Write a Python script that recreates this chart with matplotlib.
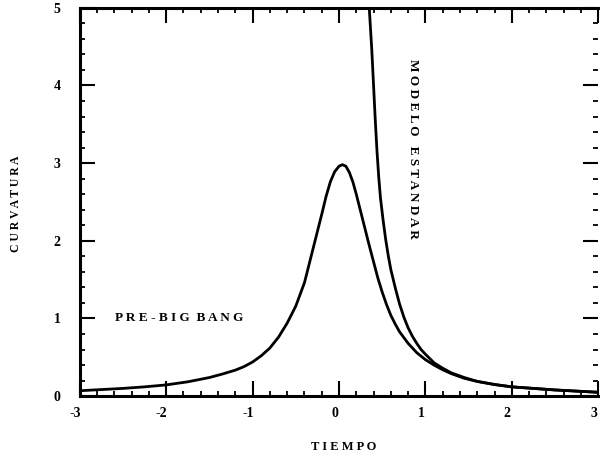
import numpy as np
import matplotlib.pyplot as plt
from matplotlib.ticker import MultipleLocator, FixedFormatter, FixedLocator
from matplotlib.transforms import ScaledTranslation

# curva pre-big bang
tiempo_pbb = [-3.0, -2.75, -2.5, -2.25, -2.0, -1.75, -1.5, -1.35, -1.2, -1.1,
              -1.0, -0.9, -0.8, -0.7, -0.6, -0.5, -0.4, -0.3, -0.2, -0.15,
              -0.1, -0.05, 0.0, 0.04, 0.08, 0.12, 0.16, 0.2, 0.25, 0.3, 0.35,
              0.4, 0.45, 0.5, 0.55, 0.6, 0.65, 0.7, 0.8, 0.9, 1.0, 1.1, 1.2,
              1.3, 1.45, 1.6, 1.8, 2.0, 2.25, 2.5, 2.75, 3.0]
curv_pbb = [0.07, 0.085, 0.10, 0.12, 0.145, 0.185, 0.24, 0.285, 0.335, 0.38,
            0.44, 0.52, 0.62, 0.76, 0.94, 1.16, 1.46, 1.90, 2.34, 2.57,
            2.76, 2.89, 2.96, 2.98, 2.96, 2.88, 2.76, 2.60, 2.38, 2.16, 1.94,
            1.73, 1.52, 1.34, 1.18, 1.04, 0.93, 0.83, 0.68, 0.56, 0.47, 0.40, 0.34,
            0.29, 0.23, 0.19, 0.15, 0.12, 0.10, 0.08, 0.065, 0.05]

# modelo estandar
tiempo_std = [0.35, 0.38, 0.40, 0.42, 0.44, 0.46, 0.48, 0.51, 0.54, 0.57,
              0.60, 0.65, 0.70, 0.75, 0.80, 0.85, 0.9, 0.95, 1.0, 1.1, 1.2,
              1.3, 1.45, 1.6, 1.8, 2.0, 2.25, 2.5, 2.75, 3.0]
curv_std = [5.0, 4.45, 4.0, 3.55, 3.15, 2.82, 2.55, 2.27, 2.02, 1.81,
            1.63, 1.40, 1.19, 1.02, 0.88, 0.77, 0.68, 0.60, 0.54, 0.43, 0.36,
            0.30, 0.24, 0.19, 0.15, 0.12, 0.10, 0.08, 0.065, 0.05]

xticks = [-3, -2, -1, 0, 1, 2, 3]
xlabels = ['-3', '-2', '-1', '0', '1', '2', '3']
yticks = [0, 1, 2, 3, 4, 5]

font = 'Liberation Serif'

fig = plt.figure(figsize=(6, 4.58), dpi=100)
ax = fig.add_axes([0.133, 0.135, 0.864, 0.848])

ax.plot(tiempo_pbb, curv_pbb, color='black', lw=2.0,
        solid_capstyle='round', solid_joinstyle='round')
ax.plot(tiempo_std, curv_std, color='black', lw=2.0,
        solid_capstyle='round', solid_joinstyle='round')

ax.set_xlim(-3, 3)
ax.set_ylim(0, 5)

for s in ['left', 'bottom', 'top']:
    ax.spines[s].set_linewidth(2.2)
ax.spines['right'].set_visible(False)

ax.xaxis.set_major_locator(FixedLocator(xticks))
ax.xaxis.set_major_formatter(FixedFormatter(xlabels))
ax.yaxis.set_major_locator(FixedLocator(yticks))
ax.xaxis.set_minor_locator(MultipleLocator(0.2))
ax.yaxis.set_minor_locator(MultipleLocator(0.2))

ax.tick_params(which='major', direction='in', length=11, width=1.5,
               top=True, right=True, labelsize=10)
ax.tick_params(which='minor', direction='in', length=3.5, width=1.3,
               top=True, right=True)
ax.tick_params(axis='y', which='major', pad=14)
ax.tick_params(axis='x', which='major', pad=8)
shift = ScaledTranslation(-0.045, 0, fig.dpi_scale_trans)
for lab in ax.get_xticklabels():
    lab.set_transform(lab.get_transform() + shift)
for lab in ax.get_xticklabels() + ax.get_yticklabels():
    lab.set_fontfamily(font)
    lab.set_fontweight('bold')

fig.text(0.027, 0.555, 'C U R V A T U R A', rotation=90, ha='center', va='center',
         fontsize=8.5, fontweight='bold', family=font)
fig.text(0.572, 0.024, 'T I E M P O', ha='center', va='center',
         fontsize=9, fontweight='bold', family=font)
ax.text(-2.59, 1.0, 'P R E - B I G  B A N G', ha='left', va='center',
        fontsize=9.5, fontweight='bold', family=font)
ax.text(0.86, 3.18, 'M O D E L O   E S T A N D A R', rotation=-90, ha='center',
        va='center', fontsize=9.5, fontweight='bold', family=font)

fig.savefig('out.png', dpi=100)
